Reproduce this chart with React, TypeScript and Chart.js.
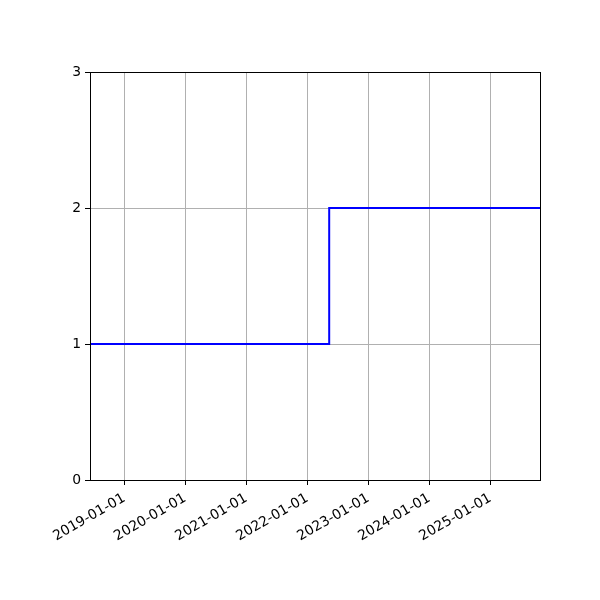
import React, { useEffect, useRef } from "react";
import { Chart, registerables } from "chart.js";

Chart.register(...registerables);

// step series: value changes at each date (steps-post)
const stepDates = ["2018-06-10", "2022-05-12", "2025-10-25"];
const stepValues = [1, 2, 2];

// yearly ticks on the x axis
const xTickLabels = [
  "2019-01-01",
  "2020-01-01",
  "2021-01-01",
  "2022-01-01",
  "2023-01-01",
  "2024-01-01",
  "2025-01-01",
];
const yTicks = [0, 1, 2, 3];

const toMs = (d: string) => Date.parse(d + "T00:00:00Z");

const FONT = "'DejaVu Sans', sans-serif";

// draws the top and right spines too, like matplotlib's box
const framePlugin = {
  id: "frame",
  afterDraw(chart: Chart) {
    const { ctx, chartArea } = chart;
    ctx.save();
    ctx.strokeStyle = "#000000";
    ctx.lineWidth = 1;
    ctx.strokeRect(
      Math.round(chartArea.left) + 0.5,
      Math.round(chartArea.top) + 0.5,
      Math.round(chartArea.right - chartArea.left),
      Math.round(chartArea.bottom - chartArea.top)
    );
    ctx.restore();
  },
};

export default function App() {
  const chartRef = useRef<HTMLCanvasElement | null>(null);
  const chartInstance = useRef<Chart | null>(null);

  useEffect(() => {
    document.body.style.margin = "0";
    if (!chartRef.current) return;
    if (chartInstance.current) chartInstance.current.destroy();

    const points = stepDates.map((d, i) => ({ x: toMs(d), y: stepValues[i] }));

    chartInstance.current = new Chart(chartRef.current, {
      type: "line",
      data: {
        datasets: [
          {
            data: points,
            borderColor: "#0000ff",
            borderWidth: 2,
            pointRadius: 0,
            stepped: "before",
            fill: false,
          },
        ],
      },
      options: {
        animation: false,
        responsive: false,
        devicePixelRatio: 1,
        layout: { padding: { left: 0, top: 72, right: 60, bottom: 0 } },
        plugins: {
          legend: { display: false },
          tooltip: { enabled: false },
        },
        scales: {
          x: {
            type: "linear",
            min: toMs(stepDates[0]),
            max: toMs(stepDates[stepDates.length - 1]),
            afterBuildTicks: (scale: any) => {
              scale.ticks = xTickLabels.map((d) => ({ value: toMs(d) }));
            },
            afterFit: (scale: any) => {
              scale.height = 120;
            },
            grid: {
              color: "#b0b0b0",
              lineWidth: 1,
              tickColor: "#000000",
              tickLength: 5,
            },
            border: { display: true, color: "#000000", width: 1 },
            ticks: {
              color: "#000000",
              font: { family: FONT, size: 13.9 },
              minRotation: 30,
              maxRotation: 30,
              padding: 5,
              autoSkip: false,
              callback: (_v: any, i: number) => xTickLabels[i],
            },
          },
          y: {
            type: "linear",
            min: yTicks[0],
            max: yTicks[yTicks.length - 1],
            afterBuildTicks: (scale: any) => {
              scale.ticks = yTicks.map((v) => ({ value: v }));
            },
            afterFit: (scale: any) => {
              scale.width = 90;
            },
            grid: {
              color: "#b0b0b0",
              lineWidth: 1,
              tickColor: "#000000",
              tickLength: 5,
            },
            border: { display: true, color: "#000000", width: 1 },
            ticks: {
              color: "#000000",
              font: { family: FONT, size: 13.9 },
              padding: 4,
              callback: (v: any) => String(v),
            },
          },
        },
      },
      plugins: [framePlugin],
    });

    return () => {
      if (chartInstance.current) {
        chartInstance.current.destroy();
        chartInstance.current = null;
      }
    };
  }, []);

  return (
    <div style={{ width: 600, height: 600, background: "#ffffff" }}>
      <canvas ref={chartRef} width={600} height={600} />
    </div>
  );
}
